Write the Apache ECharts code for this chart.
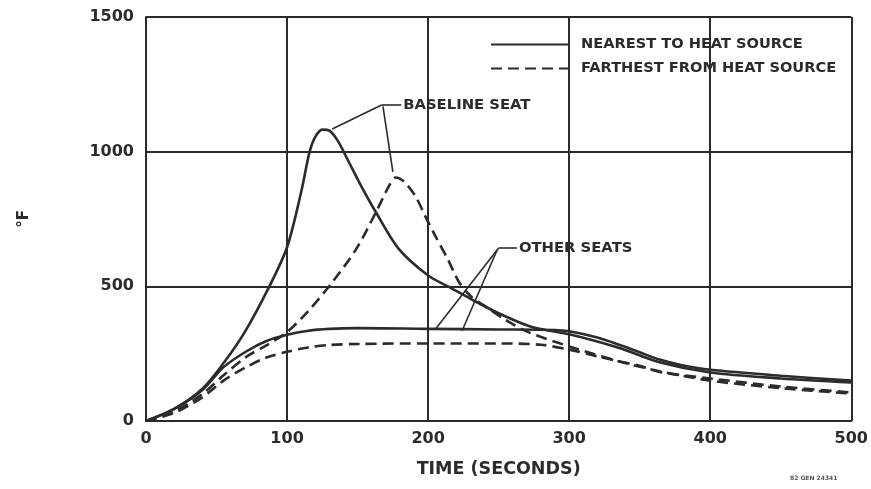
<!DOCTYPE html>
<html>
<head>
<meta charset="utf-8">
<script src="https://cdn.jsdelivr.net/npm/echarts@6/dist/echarts.min.js"></script>
<style>
html,body{margin:0;padding:0;background:#fff;}
#chart{width:871px;height:489px;}
</style>
</head>
<body>
<div id="chart"></div>
<script>
// Tick values
var xTicks = [0, 100, 200, 300, 400, 500];
var yTicks = [0, 500, 1000, 1500];

// Series labels
var legendNames = ['NEAREST TO HEAT SOURCE', 'FARTHEST FROM HEAT SOURCE'];

// Baseline seat, nearest to heat source (solid) [time s, °F]
var baselineNearest = [[0,0],[20,45],[40,120],[55,215],[70,330],[87,495],[100,645],[110,850],[116,1000],[120,1055],[125,1082],[130,1078],[136,1040],[143,970],[152,878],[163,775],[179,640],[200,540],[214,500],[231,451],[250,400],[273,350],[300,322],[335,272],[364,218],[400,180],[450,158],[500,143]];

// Baseline seat, farthest from heat source (dashed)
var baselineFarthest = [[0,0],[20,35],[40,100],[55,170],[71,238],[85,280],[100,330],[116,414],[132,515],[149,638],[163,775],[172,870],[177,904],[183,888],[191,835],[198,760],[205,688],[214,600],[222,515],[231,460],[241,424],[255,375],[271,330],[300,277],[335,222],[364,185],[400,150],[450,122],[500,102]];

// Other seats, nearest to heat source (solid)
var otherNearest = [[0,0],[20,45],[40,115],[55,200],[71,258],[85,296],[100,320],[115,335],[130,342],[150,345],[200,342],[250,340],[290,338],[300,333],[320,310],[335,284],[350,255],[364,228],[380,207],[400,190],[450,168],[500,150]];

// Other seats, farthest from heat source (dashed)
var otherFarthest = [[0,0],[20,30],[40,88],[55,150],[71,200],[85,235],[100,257],[115,273],[130,282],[150,286],[200,288],[250,288],[280,283],[300,265],[320,240],[335,222],[350,205],[364,182],[400,158],[450,128],[500,106]];

// Annotation leader lines (data coordinates)
var baselineLeaders = [[[167,1173],[181,1173]],[[167,1173],[132,1084]],[[168,1168],[175,925]]];
var otherLeaders = [[[250,642],[263,642]],[[250,642],[205,340]],[[249,636],[224,334]]];
var annotations = [{text:'BASELINE SEAT', at:[182,1173]},{text:'OTHER SEATS', at:[264,642]}];

var ink = '#2b2b2b';
var fontFam = '"DejaVu Sans", "Liberation Sans", Arial, sans-serif';

function lineSeries(name, data, dashed) {
  return {
    name: name, type: 'line', data: data, smooth: 0.3,
    showSymbol: false, symbol: 'none', animation: false, silent: true,
    lineStyle: {color: ink, width: 2.6, type: dashed ? [11, 6] : 'solid'},
    itemStyle: {color: ink}
  };
}

function leaderLines(list) {
  return list.map(function (seg) {
    return [{coord: seg[0]}, {coord: seg[1]}];
  });
}

var s1 = lineSeries(legendNames[0], baselineNearest, false);
s1.markLine = {
  silent: true, animation: false, symbol: ['none','none'],
  lineStyle: {color: ink, width: 1.6, type: 'solid'},
  label: {show: false},
  data: leaderLines(baselineLeaders).concat(leaderLines(otherLeaders))
};
s1.markPoint = {
  silent: true, animation: false, symbol: 'circle', symbolSize: 1,
  itemStyle: {color: 'rgba(0,0,0,0)'},
  label: {show: true, position: 'right', distance: 0, formatter: function(p){return p.name;},
    color: ink, fontFamily: fontFam, fontWeight: 'bold', fontSize: 14.8},
  data: annotations.map(function(a){return {name: a.text, coord: a.at};})
};

var option = {
  backgroundColor: '#fff',
  animation: false,
  grid: {left: 146, right: 19, top: 17, bottom: 68, show: false},
  legend: {
    left: 490, top: 37, orient: 'vertical', itemGap: 9, padding: 0,
    itemWidth: 77, itemHeight: 14,
    data: legendNames,
    itemStyle: {opacity: 0},
    textStyle: {color: ink, fontFamily: fontFam, fontWeight: 'bold', fontSize: 14.6, padding: [0,0,0,8]},
    selectedMode: false
  },
  xAxis: {
    type: 'value', min: xTicks[0], max: xTicks[xTicks.length-1], interval: 100,
    name: 'TIME (SECONDS)', nameLocation: 'middle', nameGap: 39,
    nameTextStyle: {color: ink, fontFamily: fontFam, fontWeight: 'bold', fontSize: 17.5},
    axisLine: {show: true, lineStyle: {color: ink, width: 2}},
    axisTick: {show: false},
    axisLabel: {color: ink, fontFamily: fontFam, fontWeight: 'bold', fontSize: 16, margin: 10,
      formatter: function (v) { return String(v); }},
    splitLine: {show: true, lineStyle: {color: ink, width: 2}}
  },
  yAxis: {
    type: 'value', min: yTicks[0], max: yTicks[yTicks.length-1], interval: 500,
    name: '°F', nameLocation: 'middle', nameGap: 114, nameRotate: 90,
    nameTextStyle: {color: ink, fontFamily: fontFam, fontWeight: 'bold', fontSize: 15},
    axisLine: {show: true, lineStyle: {color: ink, width: 2}},
    axisTick: {show: false},
    axisLabel: {color: ink, fontFamily: fontFam, fontWeight: 'bold', fontSize: 16, margin: 12,
      formatter: function (v) { return String(v); }},
    splitLine: {show: true, lineStyle: {color: ink, width: 2}}
  },
  graphic: [
    {type: 'text', left: 790, top: 475, style: {text: '82 GEN 24341', fill: '#555', font: 'bold 6px ' + fontFam}, silent: true}
  ],
  series: [
    s1,
    lineSeries(legendNames[1], baselineFarthest, true),
    lineSeries(legendNames[0], otherNearest, false),
    lineSeries(legendNames[1], otherFarthest, true)
  ]
};

var chart = echarts.init(document.getElementById('chart'), null, {renderer: 'canvas'});
chart.setOption(option);
</script>
</body>
</html>
